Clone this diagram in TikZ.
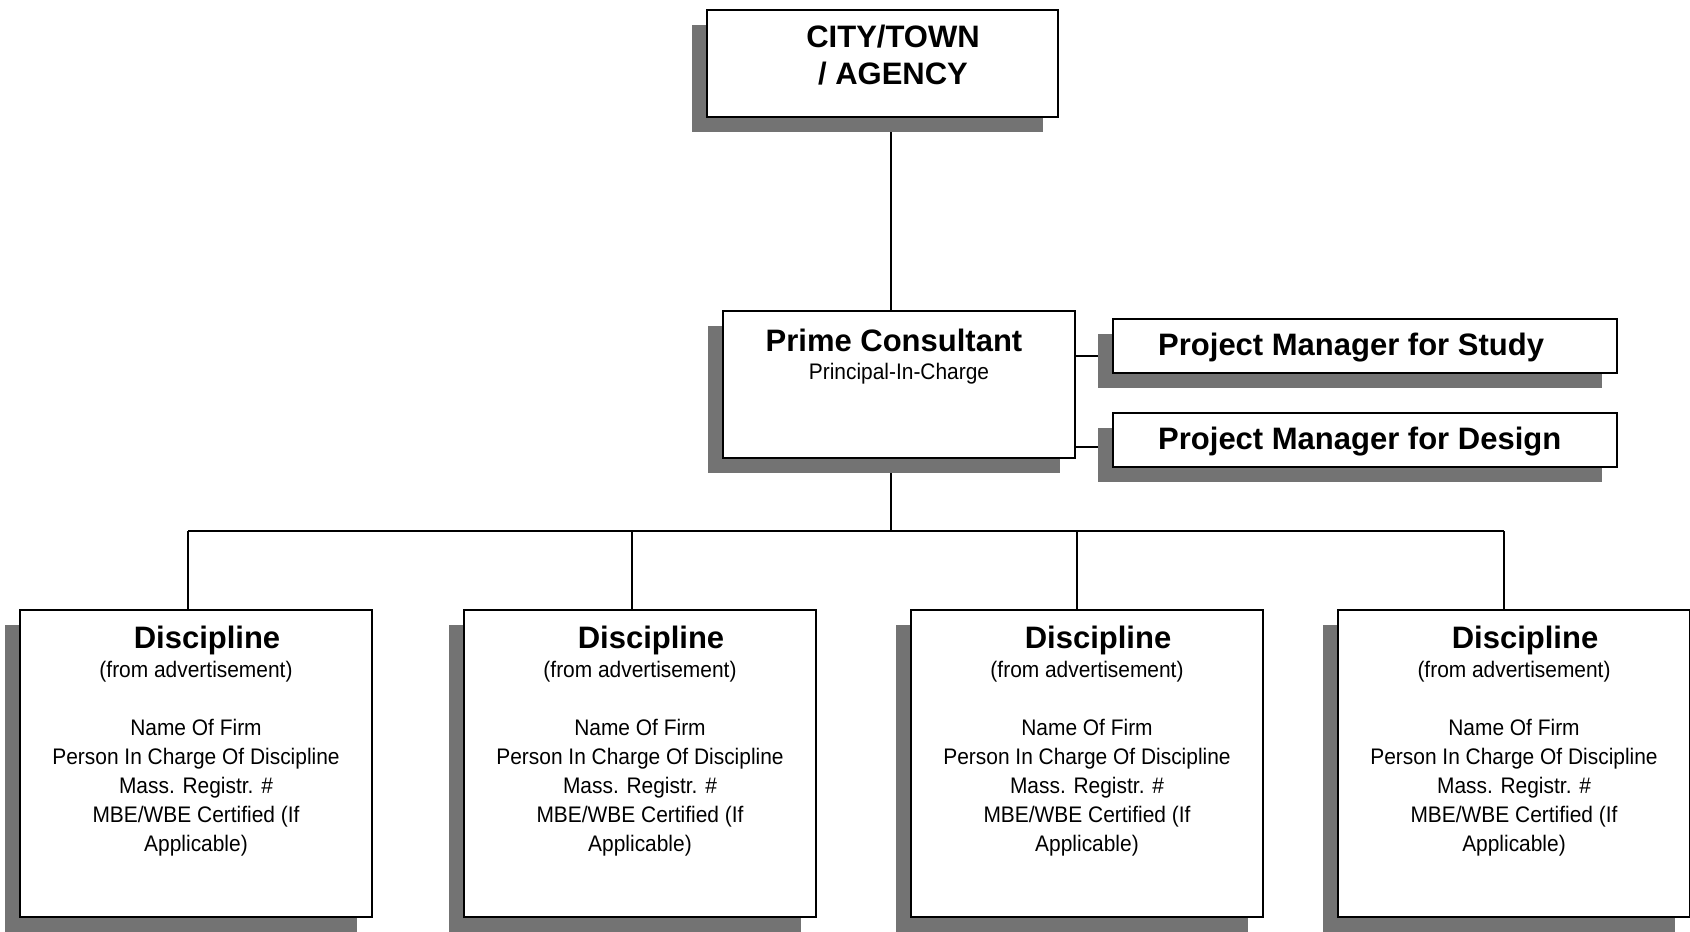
\documentclass[tikz,border=0pt]{standalone}
\usepackage{fontspec}
\setmainfont{Liberation Sans}
\newfontfamily\narrowf[FakeStretch=0.93]{Liberation Sans}
\usetikzlibrary{shadows}
\pgfdeclarelayer{background}
\pgfsetlayers{background,main}
\tikzset{
  box/.style={draw=black, line width=1.8pt, fill=white, rectangle, inner sep=0pt,
    drop shadow={shadow xshift=-15pt, shadow yshift=-15pt, fill=black!55, opacity=1}},
  link/.style={draw=black, line width=1.8pt},
  bigtxt/.style={font=\fontsize{31}{36.6}\selectfont\bfseries, align=center, inner sep=0pt},
  smalltxt/.style={font=\narrowf\fontsize{22.5}{29}\selectfont, align=center, inner sep=0pt},
}
\begin{document}
\begin{tikzpicture}[x=1pt,y=-1pt]
\useasboundingbox (0,0) rectangle (1690,932);
% top
\node[box, minimum width=351pt, minimum height=107pt] (city) at (882.5,63.5) {};
\node[bigtxt] (citytxt) at (893,55) {CITY/TOWN\\/ AGENCY};
% prime
\node[box, minimum width=352pt, minimum height=147pt] (prime) at (899,384.5) {};
\node[bigtxt] (primetxt) at (894,340) {Prime Consultant};
\node[smalltxt] (primesub) at (899,374) {Principal-In-Charge};
% project managers
\node[box, minimum width=504pt, minimum height=54pt] (pms) at (1365,346) {};
\node[bigtxt, anchor=west] (pmstxt) at (1158,348) {Project Manager for Study};
\node[box, minimum width=504pt, minimum height=54pt] (pmd) at (1365,440) {};
\node[bigtxt, anchor=west] (pmdtxt) at (1158,442) {Project Manager for Design};
% disciplines
\foreach \i/\cx in {1/196,2/640,3/1087,4/1514} {
  \node[box, minimum width=352pt, minimum height=307pt] (d\i) at (\cx,763.5) {};
  \node[bigtxt] (d\i title) at (\cx+11,640) {Discipline};
  \node[smalltxt] (d\i body) at (\cx,759) {(from advertisement)\\[29pt]Name Of Firm\\Person In Charge Of Discipline\\Mass. Registr. \#\\MBE/WBE Certified (If\\Applicable)};
}
% connectors
\coordinate (busL) at (188,531);
\coordinate (j2) at (632,531);
\coordinate (busM) at (891,531);
\coordinate (j3) at (1077,531);
\coordinate (busR) at (1504,531);
\begin{pgfonlayer}{background}
\fill[white] (0,0) rectangle (1690,932);
\draw[link] (city.south -| busM) -- (prime.north -| busM);
\draw[link] (prime.south -| busM) -- (busM);
\draw[link] (busL) -- (busR);
\draw[link] (busL) -- (busL |- d1.north);
\draw[link] (j2) -- (j2 |- d2.north);
\draw[link] (j3) -- (j3 |- d3.north);
\draw[link] (busR) -- (busR |- d4.north);
\draw[link] (prime.east |- 0,356) -- (pms.west |- 0,356);
\draw[link] (prime.east |- 0,447) -- (pmd.west |- 0,447);
\end{pgfonlayer}
\end{tikzpicture}
\end{document}
